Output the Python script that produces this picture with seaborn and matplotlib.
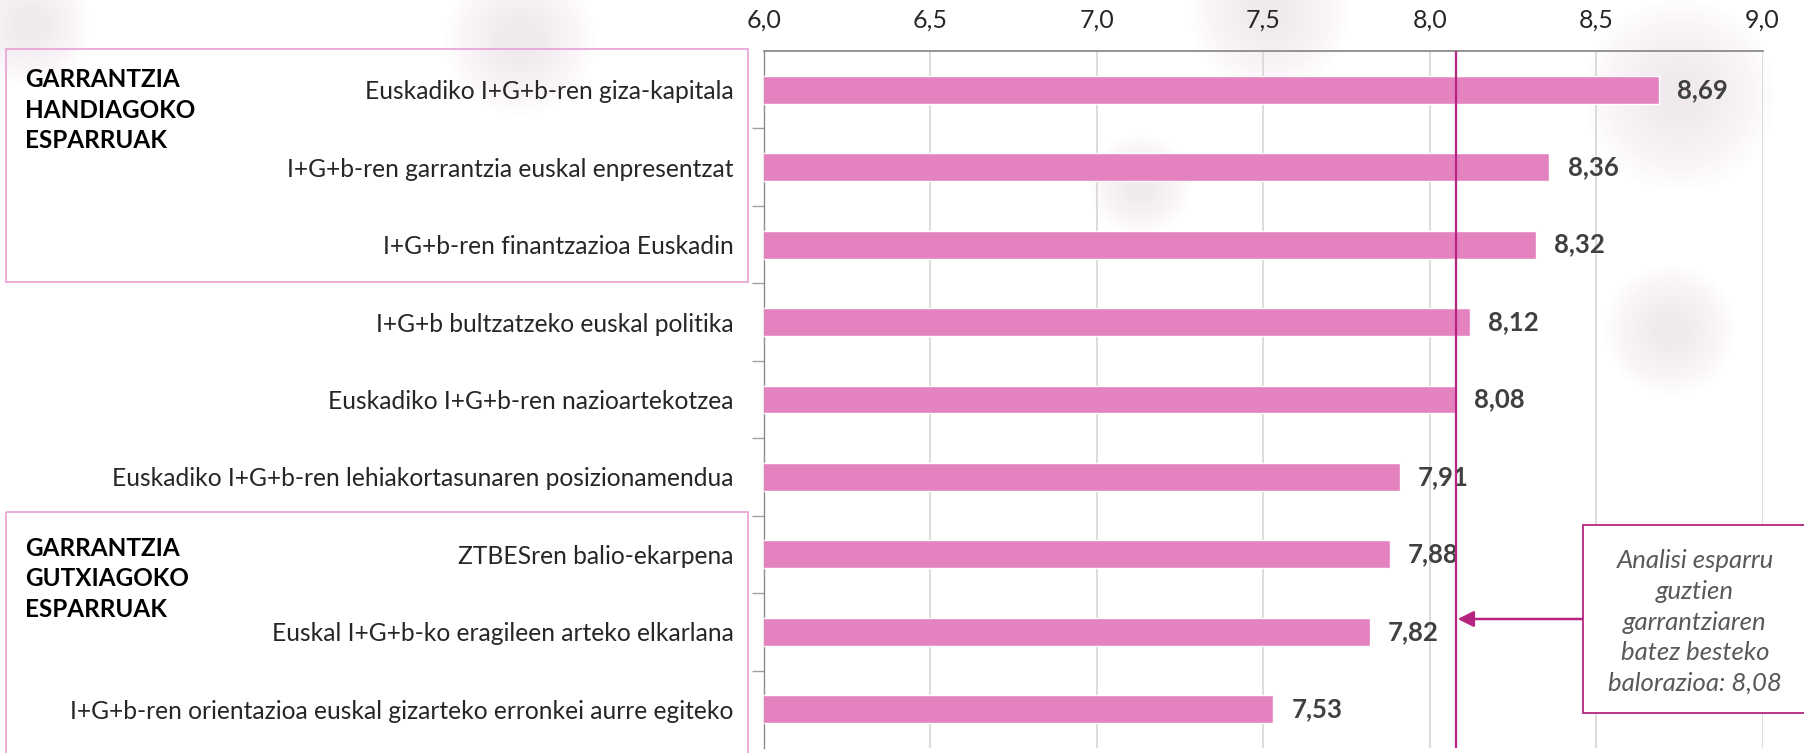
import numpy as np
import pandas as pd
import seaborn as sns
import matplotlib.pyplot as plt
from matplotlib.patches import Rectangle, Circle
from matplotlib.ticker import FuncFormatter, FixedLocator
from matplotlib.transforms import blended_transform_factory

# data
categories = [
    "Euskadiko I+G+b-ren giza-kapitala",
    "I+G+b-ren garrantzia euskal enpresentzat",
    "I+G+b-ren finantzazioa Euskadin",
    "I+G+b bultzatzeko euskal politika",
    "Euskadiko I+G+b-ren nazioartekotzea",
    "Euskadiko I+G+b-ren lehiakortasunaren posizionamendua",
    "ZTBESren balio-ekarpena",
    "Euskal I+G+b-ko eragileen arteko elkarlana",
    "I+G+b-ren orientazioa euskal gizarteko erronkei aurre egiteko",
]
values = [8.69, 8.36, 8.32, 8.12, 8.08, 7.91, 7.88, 7.82, 7.53]
mean_value = 8.08
group_labels = ["GARRANTZIA\nHANDIAGOKO\nESPARRUAK", "GARRANTZIA\nGUTXIAGOKO\nESPARRUAK"]
note_text = "Analisi esparru\nguztien\ngarrantziaren\nbatez besteko\nbalorazioa: 8,08"

bar_color = "#E482C0"
line_color = "#B5247F"
box_color = "#E8A6D6"
text_dark = "#404040"

sns.set_theme(style="white")
plt.rcParams['font.family'] = ['Lato', 'DejaVu Sans']

df = pd.DataFrame({"area": categories, "value": values})

fig = plt.figure(figsize=(18.04, 7.53), dpi=100)
ax = fig.add_axes([0.4235, 0.0066, 0.5535, 0.9257])

# faint, soft decorative blobs in the background (pixel positions -> inches)
for cx, cy, r in [(1270, 10, 80), (1680, 95, 95), (1670, 330, 65), (1140, 185, 50), (520, 40, 75), (30, 25, 60)]:
    for k in range(16):
        fig.patches.append(Circle((cx / 100, (753 - cy) / 100), r * (1 - k * 0.05) / 100,
                                  transform=fig.dpi_scale_trans, facecolor="#F0E2EA",
                                  edgecolor="none", alpha=0.05, zorder=-10))
ax.set_facecolor("none")

sns.barplot(data=df, x="value", y="area", orient="h", color=bar_color,
            width=0.36, saturation=1, ax=ax, zorder=3)

ax.set_xlim(6.0, 9.0)
ax.set_ylim(8.5, -0.5)
ax.xaxis.tick_top()
ax.set_xticks(np.arange(6.0, 9.01, 0.5))
ax.xaxis.set_major_formatter(FuncFormatter(lambda v, p: f"{v:.1f}".replace(".", ",")))
ax.tick_params(axis="x", which="major", length=0, pad=14, labelsize=18, labelcolor="#262626")
ax.tick_params(axis="y", which="major", length=0, pad=22, labelsize=17.7, labelcolor="#262626")
ax.yaxis.set_minor_locator(FixedLocator(np.arange(0.5, 8.5, 1.0)))
ax.tick_params(axis="y", which="minor", left=True, length=9, width=1, color="#A0A0A0")
ax.grid(axis="x", color="#D9D9D9", linewidth=1.3, zorder=0)
ax.set_xlabel("")
ax.set_ylabel("")
for side in ["right", "bottom"]:
    ax.spines[side].set_visible(False)
ax.spines["top"].set_color("#8C8C8C")
ax.spines["top"].set_linewidth(1.3)
ax.spines["left"].set_color("#8C8C8C")
ax.spines["left"].set_linewidth(1.0)

for i, v in enumerate(values):
    ax.annotate(f"{v:.2f}".replace(".", ","), xy=(v, i), xytext=(13, 0),
                textcoords="offset points", va="center", ha="left",
                fontsize=18.5, fontweight="bold", color=text_dark, zorder=4)

ax.axvline(mean_value, color=line_color, linewidth=1.6, zorder=5)

# group boxes on the left
trans = blended_transform_factory(fig.transFigure, ax.transData)
x0, x1 = 6 / 1804, 748 / 1804
for (ytop, ybot) in [(-0.52, 2.48), (5.45, 8.7)]:
    fig.patches.append(Rectangle((x0, ytop), x1 - x0, ybot - ytop, transform=trans,
                                 fill=False, edgecolor=box_color, linewidth=1.3, clip_on=False))
for lab, ytop in zip(group_labels, [-0.28, 5.77]):
    fig.text(25 / 1804, ytop, lab, transform=trans, ha="left", va="top",
             fontsize=17.5, fontweight="bold", color="black", linespacing=1.4)

# note box with arrow to the mean line
bx0, bx1 = 1583 / 1804, 1810 / 1804
by0, by1 = 1 - 713 / 753, 1 - 525 / 753
fig.patches.append(Rectangle((bx0, by0), bx1 - bx0, by1 - by0, transform=fig.transFigure,
                             facecolor="white", edgecolor=line_color, linewidth=1.3))
fig.text(1695 / 1804, 1 - 622 / 753, note_text, ha="center", va="center",
         fontsize=18.5, fontstyle="italic", color="#595959", linespacing=1.4)
arrow_y = 1 - 619 / 753
ax.annotate("", xy=(mean_value, arrow_y), xycoords=("data", "figure fraction"),
            xytext=(bx0, arrow_y), textcoords="figure fraction",
            arrowprops=dict(arrowstyle="-|>", color=line_color, lw=1.8,
                            mutation_scale=24, shrinkA=0, shrinkB=1))

fig.savefig("out.png", dpi=100)
